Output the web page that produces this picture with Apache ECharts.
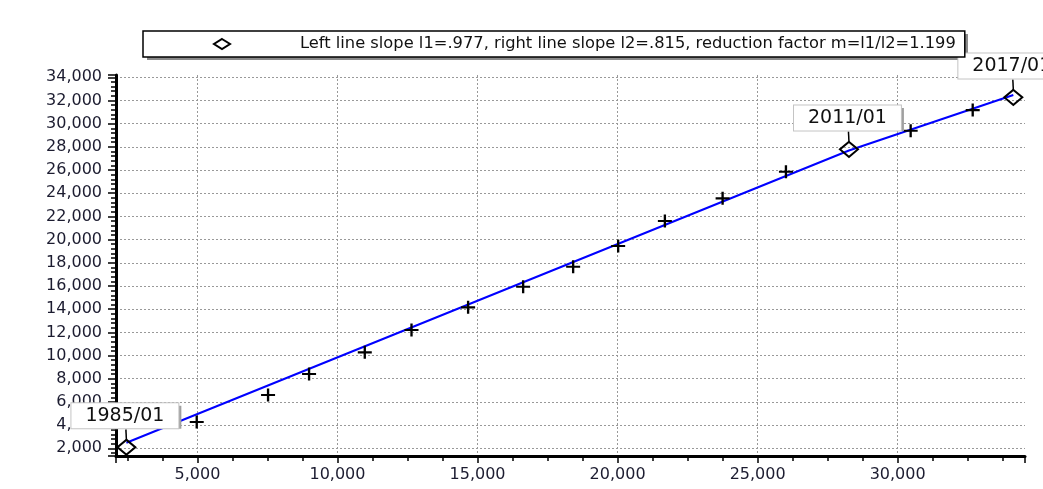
<!DOCTYPE html>
<html>
<head>
<meta charset="utf-8">
<script src="https://cdn.jsdelivr.net/npm/echarts@6/dist/echarts.min.js"></script>
<style>
html,body{margin:0;padding:0;background:#fff;}
#chart{width:1043px;height:489px;}
</style>
</head>
<body>
<div id="chart"></div>
<script>
const crossX = [4975, 7522, 8986, 10975, 12643, 14664, 16629, 18414, 20021, 21689, 23750, 26011, 30464, 32679];
const crossY = [4268, 6597, 8408, 10279, 12202, 14160, 15937, 17661, 19446, 21602, 23560, 25854, 29390, 31175];
// Key (break) points
const keyX = [2464, 28261, 34129];
const keyY = [2090, 27786, 32270];
const keyLabels = ['1985/01', '2011/01', '2017/01'];
// Two-segment fitted line
const fitX = [2464, 28261, 34129];
const fitY = [2483, 27690, 32470];
const legendText = 'Left line slope l1=.977, right line slope l2=.815, reduction factor m=l1/l2=1.199';
// Axis ranges
const xRange = [2093, 34546];
const yRange = [1336, 34198];

const FONT = 'DejaVu Sans';
const zip = (a, b) => a.map((v, i) => [v, b[i]]);

const chart = echarts.init(document.getElementById('chart'), null, {renderer: 'canvas'});
chart.setOption({
  animation: false,
  backgroundColor: '#fff',
  grid: {left: 116, right: 18, top: 75, bottom: 33, containLabel: false},
  graphic: [{
    type: 'rect', left: 147, top: 34, z: 0, silent: true,
    shape: {width: 821, height: 26}, style: {fill: '#8a8a8a'}
  }],
  legend: {
    data: [{name: legendText, icon: 'diamond'}],
    left: 143, top: 31, z: 5,
    itemWidth: 16, itemHeight: 10,
    padding: [5, 9, 5, 70],
    backgroundColor: '#fff',
    borderColor: '#000', borderWidth: 1.5, borderRadius: 0,
    itemStyle: {color: 'rgba(0,0,0,0)', borderColor: '#000', borderWidth: 2, opacity: 1},
    textStyle: {fontFamily: FONT, fontSize: 16.3, color: '#111', padding: [0, 0, 0, 65]},
    selectedMode: false
  },
  xAxis: {
    type: 'value', min: xRange[0], max: xRange[1], splitNumber: 6,
    axisLine: {show: true, onZero: false, lineStyle: {color: '#000', width: 3}},
    axisTick: {show: true, inside: false, length: 7, lineStyle: {color: '#000', width: 1.5}},
    minorTick: {show: true, splitNumber: 4, length: 5, lineStyle: {color: '#000', width: 1.5}},
    axisLabel: {fontFamily: FONT, fontSize: 16, color: '#1c1c30', margin: 11, showMinLabel: false, showMaxLabel: false},
    splitLine: {show: true, showMinLine: false, showMaxLine: false, lineStyle: {color: '#999', width: 1, type: [2, 2]}}
  },
  yAxis: {
    type: 'value', min: yRange[0], max: yRange[1], splitNumber: 16,
    axisLine: {show: true, onZero: false, lineStyle: {color: '#000', width: 3}},
    axisTick: {show: true, inside: false, length: 8, lineStyle: {color: '#000', width: 1.5}},
    minorTick: {show: true, splitNumber: 5, length: 5, lineStyle: {color: '#000', width: 1.5}},
    axisLabel: {fontFamily: FONT, fontSize: 16, color: '#1c1c30', margin: 14, showMinLabel: false, showMaxLabel: false},
    splitLine: {show: true, showMinLine: false, showMaxLine: false, lineStyle: {color: '#999', width: 1, type: [2, 2]}}
  },
  series: [
    {
      name: 'fit', type: 'line', data: zip(fitX, fitY),
      showSymbol: false, symbol: 'none',
      lineStyle: {color: '#0000ff', width: 2}, z: 2, silent: true
    },
    {
      name: 'observed', type: 'scatter', data: zip(crossX, crossY),
      symbol: 'path://M5,0H7V5H12V7H7V12H5V7H0V5H5Z', symbolSize: [14, 13],
      itemStyle: {color: '#000', opacity: 1}, z: 3, silent: true
    },
    {
      name: legendText, type: 'scatter', data: zip(keyX, keyY),
      symbol: 'diamond', symbolSize: [18, 15],
      itemStyle: {color: 'rgba(0,0,0,0)', borderColor: '#000', borderWidth: 2, opacity: 1},
      z: 4, silent: true,
      label: {
        show: true, position: 'top', distance: 12,
        formatter: p => '{b|' + keyLabels[p.dataIndex] + '}',
        backgroundColor: '#a0a0a0',
        padding: [0, 3, 3, 0],
        rich: {
          b: {
            fontFamily: FONT, fontSize: 19, lineHeight: 20, color: '#111',
            backgroundColor: '#fff', borderColor: '#c4c4c4', borderWidth: 1,
            padding: [3, 14, 3, 14]
          }
        }
      },
      labelLayout: p => ({
        x: p.rect.x + p.rect.width / 2,
        y: p.rect.y - 10,
        align: 'center', verticalAlign: 'bottom'
      }),
      labelLine: {show: true, lineStyle: {color: '#000', width: 1.5}}
    }
  ]
});
</script>
</body>
</html>
